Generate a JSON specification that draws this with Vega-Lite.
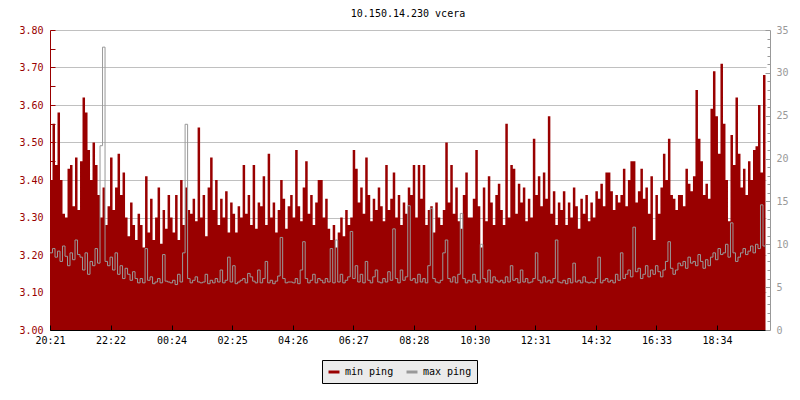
{
  "$schema": "https://vega.github.io/schema/vega-lite/v6.json",
  "width": 716,
  "height": 300,
  "autosize": {"type": "none"},
  "padding": {"left": 50, "top": 30, "right": 34, "bottom": 70},
  "background": "white",
  "title": {"text": "10.150.14.230 vcera", "font": "DejaVu Sans Mono", "fontSize": 10, "fontWeight": "normal", "color": "#000000", "offset": 6, "anchor": "middle"},
  "config": {"view": {"stroke": null}, "axis": {"labelFont": "DejaVu Sans Mono", "labelFontSize": 10, "labelOverlap": false, "labelFlush": false, "labelBound": false}},
  "data": {"values": [
{"m":0,"a":3.40,"b":9.0},{"m":5,"a":3.55,"b":9.5},{"m":10,"a":3.44,"b":8.5},{"m":15,"a":3.58,"b":9.2},{"m":20,"a":3.40,"b":8.0},{"m":25,"a":3.31,"b":9.8},{"m":30,"a":3.30,"b":8.6},{"m":35,"a":3.43,"b":7.5},{"m":40,"a":3.44,"b":9.0},{"m":45,"a":3.33,"b":8.2},{"m":50,"a":3.46,"b":10.5},{"m":55,"a":3.32,"b":8.8},
{"m":60,"a":3.45,"b":8.5},{"m":65,"a":3.62,"b":7.0},{"m":70,"a":3.58,"b":9.0},{"m":75,"a":3.48,"b":6.5},{"m":80,"a":3.40,"b":8.0},{"m":85,"a":3.50,"b":7.5},{"m":90,"a":3.44,"b":9.5},{"m":95,"a":3.36,"b":7.8},{"m":100,"a":3.30,"b":21.5},{"m":105,"a":3.38,"b":33.0},{"m":110,"a":3.28,"b":8.0},{"m":115,"a":3.33,"b":7.5},
{"m":120,"a":3.46,"b":8.5},{"m":125,"a":3.32,"b":7.0},{"m":130,"a":3.38,"b":9.0},{"m":135,"a":3.47,"b":6.5},{"m":140,"a":3.36,"b":7.5},{"m":145,"a":3.42,"b":6.0},{"m":150,"a":3.30,"b":7.2},{"m":155,"a":3.25,"b":6.5},{"m":160,"a":3.34,"b":5.8},{"m":165,"a":3.28,"b":6.8},{"m":170,"a":3.24,"b":6.0},{"m":175,"a":3.31,"b":5.5},
{"m":180,"a":3.28,"b":6.0},{"m":185,"a":3.22,"b":5.5},{"m":190,"a":3.41,"b":9.5},{"m":195,"a":3.26,"b":5.8},{"m":200,"a":3.35,"b":6.2},{"m":205,"a":3.24,"b":5.4},{"m":210,"a":3.30,"b":5.6},{"m":215,"a":3.38,"b":6.0},{"m":220,"a":3.23,"b":5.5},{"m":225,"a":3.32,"b":8.8},{"m":230,"a":3.27,"b":5.7},{"m":235,"a":3.36,"b":5.6},
{"m":240,"a":3.30,"b":5.5},{"m":245,"a":3.26,"b":5.8},{"m":250,"a":3.36,"b":5.3},{"m":255,"a":3.24,"b":6.5},{"m":260,"a":3.40,"b":5.6},{"m":265,"a":3.28,"b":9.0},{"m":270,"a":3.38,"b":24.0},{"m":275,"a":3.32,"b":6.0},{"m":280,"a":3.31,"b":5.5},{"m":285,"a":3.35,"b":5.8},{"m":290,"a":3.29,"b":6.2},{"m":295,"a":3.54,"b":5.6},
{"m":300,"a":3.30,"b":5.5},{"m":305,"a":3.36,"b":5.6},{"m":310,"a":3.25,"b":6.5},{"m":315,"a":3.38,"b":5.4},{"m":320,"a":3.46,"b":5.8},{"m":325,"a":3.32,"b":5.5},{"m":330,"a":3.40,"b":6.0},{"m":335,"a":3.28,"b":5.6},{"m":340,"a":3.35,"b":7.0},{"m":345,"a":3.30,"b":5.5},{"m":350,"a":3.37,"b":5.8},{"m":355,"a":3.26,"b":8.5},
{"m":360,"a":3.34,"b":5.6},{"m":365,"a":3.31,"b":7.5},{"m":370,"a":3.26,"b":5.4},{"m":375,"a":3.33,"b":5.6},{"m":380,"a":3.30,"b":5.8},{"m":385,"a":3.44,"b":6.0},{"m":390,"a":3.31,"b":5.5},{"m":395,"a":3.36,"b":6.6},{"m":400,"a":3.28,"b":6.2},{"m":405,"a":3.44,"b":5.7},{"m":410,"a":3.27,"b":5.5},{"m":415,"a":3.34,"b":7.0},
{"m":420,"a":3.33,"b":5.5},{"m":425,"a":3.41,"b":6.0},{"m":430,"a":3.28,"b":8.0},{"m":435,"a":3.47,"b":5.5},{"m":440,"a":3.30,"b":5.8},{"m":445,"a":3.34,"b":5.4},{"m":450,"a":3.26,"b":5.7},{"m":455,"a":3.32,"b":6.3},{"m":460,"a":3.40,"b":10.8},{"m":465,"a":3.35,"b":6.0},{"m":470,"a":3.27,"b":5.5},{"m":475,"a":3.33,"b":5.6},
{"m":480,"a":3.36,"b":5.6},{"m":485,"a":3.30,"b":5.5},{"m":490,"a":3.48,"b":6.0},{"m":495,"a":3.33,"b":5.4},{"m":500,"a":3.29,"b":7.0},{"m":505,"a":3.38,"b":10.3},{"m":510,"a":3.45,"b":6.0},{"m":515,"a":3.31,"b":5.5},{"m":520,"a":3.36,"b":5.8},{"m":525,"a":3.28,"b":6.5},{"m":530,"a":3.34,"b":5.5},{"m":535,"a":3.40,"b":6.0},
{"m":540,"a":3.40,"b":5.8},{"m":545,"a":3.30,"b":5.5},{"m":550,"a":3.35,"b":6.0},{"m":555,"a":3.27,"b":5.6},{"m":560,"a":3.24,"b":9.5},{"m":565,"a":3.28,"b":5.5},{"m":570,"a":3.22,"b":10.5},{"m":575,"a":3.26,"b":5.6},{"m":580,"a":3.30,"b":6.5},{"m":585,"a":3.25,"b":5.5},{"m":590,"a":3.32,"b":5.8},{"m":595,"a":3.28,"b":6.2},
{"m":600,"a":3.30,"b":11.5},{"m":605,"a":3.48,"b":6.0},{"m":610,"a":3.43,"b":7.5},{"m":615,"a":3.34,"b":5.6},{"m":620,"a":3.38,"b":6.5},{"m":625,"a":3.31,"b":5.5},{"m":630,"a":3.46,"b":8.0},{"m":635,"a":3.36,"b":5.8},{"m":640,"a":3.29,"b":5.5},{"m":645,"a":3.35,"b":6.2},{"m":650,"a":3.32,"b":7.0},{"m":655,"a":3.38,"b":5.6},
{"m":660,"a":3.33,"b":5.5},{"m":665,"a":3.29,"b":6.0},{"m":670,"a":3.44,"b":5.6},{"m":675,"a":3.32,"b":6.8},{"m":680,"a":3.35,"b":5.8},{"m":685,"a":3.42,"b":11.8},{"m":690,"a":3.30,"b":6.0},{"m":695,"a":3.36,"b":5.5},{"m":700,"a":3.28,"b":7.0},{"m":705,"a":3.34,"b":5.8},{"m":710,"a":3.31,"b":6.2},{"m":715,"a":3.38,"b":14.5},
{"m":720,"a":3.36,"b":5.8},{"m":725,"a":3.44,"b":6.0},{"m":730,"a":3.30,"b":5.5},{"m":735,"a":3.44,"b":6.5},{"m":740,"a":3.35,"b":5.6},{"m":745,"a":3.44,"b":6.0},{"m":750,"a":3.28,"b":5.5},{"m":755,"a":3.32,"b":7.5},{"m":760,"a":3.33,"b":14.2},{"m":765,"a":3.26,"b":6.0},{"m":770,"a":3.34,"b":5.6},{"m":775,"a":3.30,"b":5.5},
{"m":780,"a":3.28,"b":5.8},{"m":785,"a":3.32,"b":9.0},{"m":790,"a":3.50,"b":10.5},{"m":795,"a":3.34,"b":6.0},{"m":800,"a":3.44,"b":5.6},{"m":805,"a":3.31,"b":6.2},{"m":810,"a":3.38,"b":5.5},{"m":815,"a":3.29,"b":6.5},{"m":820,"a":3.27,"b":13.6},{"m":825,"a":3.36,"b":6.0},{"m":830,"a":3.42,"b":5.5},{"m":835,"a":3.30,"b":5.8},
{"m":840,"a":3.30,"b":5.6},{"m":845,"a":3.35,"b":6.5},{"m":850,"a":3.48,"b":5.8},{"m":855,"a":3.33,"b":5.5},{"m":860,"a":3.22,"b":10.0},{"m":865,"a":3.38,"b":6.0},{"m":870,"a":3.29,"b":5.6},{"m":875,"a":3.41,"b":7.0},{"m":880,"a":3.34,"b":5.5},{"m":885,"a":3.28,"b":6.2},{"m":890,"a":3.36,"b":5.8},{"m":895,"a":3.39,"b":5.6},
{"m":900,"a":3.32,"b":5.8},{"m":905,"a":3.28,"b":5.5},{"m":910,"a":3.55,"b":6.2},{"m":915,"a":3.30,"b":5.6},{"m":920,"a":3.44,"b":7.5},{"m":925,"a":3.43,"b":5.8},{"m":930,"a":3.31,"b":6.0},{"m":935,"a":3.39,"b":5.5},{"m":940,"a":3.34,"b":7.0},{"m":945,"a":3.38,"b":5.6},{"m":950,"a":3.29,"b":6.0},{"m":955,"a":3.35,"b":5.5},
{"m":960,"a":3.30,"b":5.6},{"m":965,"a":3.51,"b":6.0},{"m":970,"a":3.36,"b":9.0},{"m":975,"a":3.41,"b":5.8},{"m":980,"a":3.33,"b":5.5},{"m":985,"a":3.42,"b":6.2},{"m":990,"a":3.35,"b":5.6},{"m":995,"a":3.57,"b":5.8},{"m":1000,"a":3.31,"b":5.5},{"m":1005,"a":3.37,"b":6.0},{"m":1010,"a":3.28,"b":10.5},{"m":1015,"a":3.34,"b":5.6},
{"m":1020,"a":3.32,"b":5.5},{"m":1025,"a":3.37,"b":5.8},{"m":1030,"a":3.28,"b":5.4},{"m":1035,"a":3.34,"b":6.0},{"m":1040,"a":3.30,"b":5.5},{"m":1045,"a":3.38,"b":7.8},{"m":1050,"a":3.33,"b":5.6},{"m":1055,"a":3.27,"b":5.8},{"m":1060,"a":3.35,"b":5.5},{"m":1065,"a":3.31,"b":6.2},{"m":1070,"a":3.36,"b":5.6},{"m":1075,"a":3.29,"b":5.5},
{"m":1080,"a":3.34,"b":5.6},{"m":1085,"a":3.30,"b":5.5},{"m":1090,"a":3.37,"b":6.0},{"m":1095,"a":3.35,"b":8.5},{"m":1100,"a":3.39,"b":5.5},{"m":1105,"a":3.33,"b":5.8},{"m":1110,"a":3.42,"b":6.0},{"m":1115,"a":3.42,"b":5.6},{"m":1120,"a":3.37,"b":5.8},{"m":1125,"a":3.32,"b":5.5},{"m":1130,"a":3.36,"b":6.5},{"m":1135,"a":3.34,"b":5.8},
{"m":1140,"a":3.36,"b":9.0},{"m":1145,"a":3.43,"b":6.0},{"m":1150,"a":3.33,"b":6.5},{"m":1155,"a":3.40,"b":7.0},{"m":1160,"a":3.45,"b":6.2},{"m":1165,"a":3.45,"b":12.0},{"m":1170,"a":3.34,"b":6.8},{"m":1175,"a":3.37,"b":7.2},{"m":1180,"a":3.43,"b":6.0},{"m":1185,"a":3.35,"b":6.5},{"m":1190,"a":3.38,"b":7.5},{"m":1195,"a":3.31,"b":6.2},
{"m":1200,"a":3.41,"b":7.0},{"m":1205,"a":3.24,"b":6.5},{"m":1210,"a":3.36,"b":7.5},{"m":1215,"a":3.31,"b":6.8},{"m":1220,"a":3.38,"b":6.2},{"m":1225,"a":3.47,"b":7.0},{"m":1230,"a":3.40,"b":8.0},{"m":1235,"a":3.51,"b":10.3},{"m":1240,"a":3.36,"b":7.2},{"m":1245,"a":3.35,"b":6.5},{"m":1250,"a":3.32,"b":7.0},{"m":1255,"a":3.36,"b":7.8},
{"m":1260,"a":3.36,"b":7.5},{"m":1265,"a":3.33,"b":8.0},{"m":1270,"a":3.43,"b":7.2},{"m":1275,"a":3.39,"b":8.5},{"m":1280,"a":3.37,"b":7.8},{"m":1285,"a":3.41,"b":8.0},{"m":1290,"a":3.64,"b":7.5},{"m":1295,"a":3.51,"b":8.8},{"m":1300,"a":3.45,"b":8.0},{"m":1305,"a":3.36,"b":7.2},{"m":1310,"a":3.39,"b":8.2},{"m":1315,"a":3.35,"b":7.5},
{"m":1320,"a":3.59,"b":8.5},{"m":1325,"a":3.69,"b":9.0},{"m":1330,"a":3.57,"b":8.2},{"m":1335,"a":3.47,"b":9.5},{"m":1340,"a":3.71,"b":8.8},{"m":1345,"a":3.55,"b":9.0},{"m":1350,"a":3.40,"b":10.0},{"m":1355,"a":3.29,"b":8.5},{"m":1360,"a":3.52,"b":12.5},{"m":1365,"a":3.44,"b":9.0},{"m":1370,"a":3.62,"b":8.0},{"m":1375,"a":3.47,"b":8.5},
{"m":1380,"a":3.38,"b":9.0},{"m":1385,"a":3.43,"b":9.5},{"m":1390,"a":3.36,"b":8.8},{"m":1395,"a":3.45,"b":9.2},{"m":1400,"a":3.40,"b":9.8},{"m":1405,"a":3.48,"b":9.0},{"m":1410,"a":3.49,"b":10.0},{"m":1415,"a":3.60,"b":9.5},{"m":1420,"a":3.42,"b":14.6},{"m":1425,"a":3.68,"b":9.8},{"m":1430,"a":3.49,"b":9.5}
  ]},
  "encoding": {
    "x": {
      "field": "m", "type": "quantitative",
      "scale": {"domain": [0, 1431], "nice": false, "zero": false},
      "axis": {
        "title": null,
        "zindex": 1,
        "values": [0, 121, 243, 364, 485, 606, 727, 849, 970, 1091, 1212, 1333],
        "labelExpr": "timeFormat(datetime(2024, 0, 1, 20, 21 + datum.value), '%H:%M')",
        "grid": false,
        "domainColor": "#000000",
        "domainWidth": 1,
        "tickColor": "#000000",
        "tickSize": -5,
        "labelPadding": 10,
        "labelColor": "#000000"
      }
    }
  },
  "layer": [
    {
      "mark": {"type": "area", "interpolate": "step-after", "color": "#990000", "opacity": 1, "clip": true},
      "encoding": {
        "y": {
          "field": "a", "type": "quantitative",
          "scale": {"domain": [3.0, 3.8], "nice": false, "zero": false},
          "axis": {
            "orient": "left",
            "title": null,
            "values": [3.0, 3.05, 3.1, 3.15, 3.2, 3.25, 3.3, 3.35, 3.4, 3.45, 3.5, 3.55, 3.6, 3.65, 3.7, 3.75, 3.8],
            "labelExpr": "round(datum.value * 100) % 10 == 0 ? format(datum.value, '.2f') : ''",
            "labelColor": "#990000",
            "domainColor": "#990000",
            "tickColor": "#990000",
            "tickSize": -5,
            "labelPadding": 12,
            "grid": true,
            "gridColor": "#c0c0c0",
            "gridOpacity": {"condition": {"test": "round(datum.value * 100) % 10 != 0 || datum.value < 3.01", "value": 0}, "value": 1}
          }
        },
        "y2": {"datum": 3.0}
      }
    },
    {
      "mark": {"type": "line", "interpolate": "step-after", "strokeWidth": 1, "clip": true},
      "encoding": {
        "y": {
          "field": "b", "type": "quantitative",
          "scale": {"domain": [0, 35], "nice": false},
          "axis": {
            "orient": "right",
            "title": null,
            "zindex": 1,
            "offset": 4,
            "values": [0,1,2,3,4,5,6,7,8,9,10,11,12,13,14,15,16,17,18,19,20,21,22,23,24,25,26,27,28,29,30,31,32,33,34,35],
            "labelExpr": "datum.value % 5 == 0 ? format(datum.value, 'd') : ''",
            "labelColor": "#999999",
            "domainColor": "#999999",
            "tickColor": "#999999",
            "tickSize": {"condition": {"test": "datum.value % 5 == 0", "value": -5}, "value": -3},
            "labelPadding": 11,
            "grid": false
          }
        },
        "color": {
          "datum": "max ping",
          "type": "nominal",
          "scale": {"domain": ["min ping", "max ping"], "range": ["#990000", "#999999"]},
          "legend": {
            "title": null,
            "orient": "none",
            "legendX": 272,
            "legendY": 330,
            "direction": "horizontal",
            "fillColor": "#ebebeb",
            "strokeColor": "#000000",
            "padding": 5,
            "columnPadding": 6,
            "symbolType": "stroke",
            "symbolStrokeWidth": 3,
            "symbolSize": 120,
            "labelFont": "DejaVu Sans Mono",
            "labelFontSize": 10,
            "labelColor": "#000000",
            "labelOffset": 4
          }
        }
      }
    }
  ],
  "resolve": {"scale": {"y": "independent"}}
}
